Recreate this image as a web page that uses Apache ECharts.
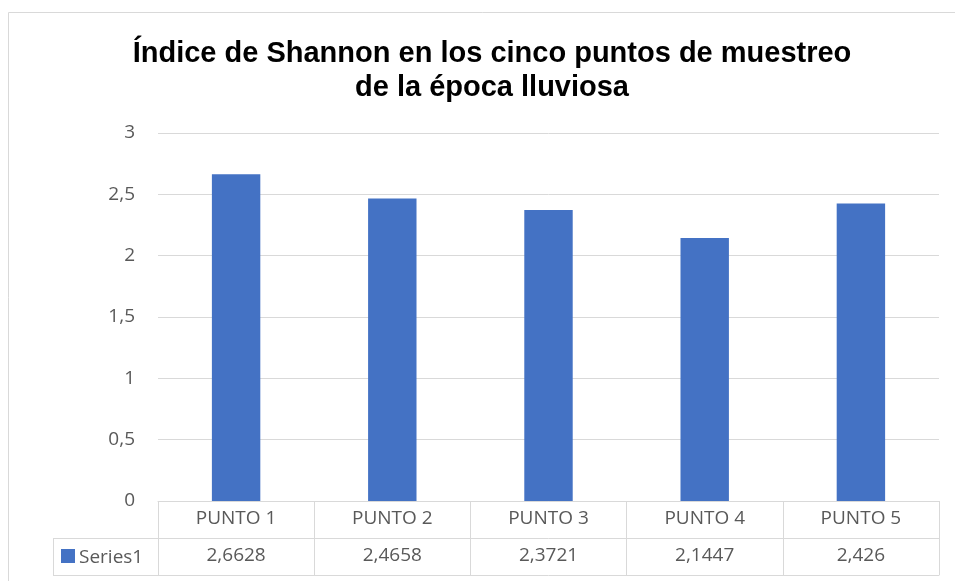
<!DOCTYPE html>
<html>
<head>
<meta charset="utf-8">
<script src="https://cdn.jsdelivr.net/npm/echarts@6/dist/echarts.min.js"></script>
<style>
  html, body { margin: 0; padding: 0; background: #fff; }
  #chart { width: 955px; height: 581px; }
</style>
</head>
<body>
<div id="chart"></div>
<script>
const TITLE = 'Índice de Shannon en los cinco puntos de muestreo\nde la época lluviosa';
const CATEGORIES = ['PUNTO 1', 'PUNTO 2', 'PUNTO 3', 'PUNTO 4', 'PUNTO 5'];
const SERIES_NAME = 'Series1';
const VALUES = [2.6628, 2.4658, 2.3721, 2.1447, 2.426];

const GRID = { left: 158, right: 16, top: 133, bottom: 80 };
const ROW_H = 37;
const LINE = '#d9d9d9';
const TEXT = '#595959';
const FONT = 'Open Sans';
const FSIZE = 19;

const fmt = v => String(v).replace('.', ',');

const chart = echarts.init(document.getElementById('chart'));

const gridBottomY = 581 - GRID.bottom;
const tableLeft = 53;

chart.setOption({
    animation: false,
    title: {
        text: TITLE,
        left: 487,
        top: 32,
        textAlign: 'center',
        textStyle: { fontFamily: 'Liberation Sans', fontSize: 29, fontWeight: 'bold', color: '#000', lineHeight: 34 }
    },
    grid: GRID,
    xAxis: [
        {
            type: 'category',
            data: CATEGORIES,
            position: 'bottom',
            axisLine: { lineStyle: { color: LINE, width: 1 } },
            axisTick: { show: true, length: ROW_H * 2, lineStyle: { color: LINE } },
            axisLabel: { color: TEXT, fontFamily: FONT, fontSize: FSIZE, margin: 8 }
        },
        {
            type: 'category',
            data: VALUES.map(fmt),
            position: 'bottom',
            offset: ROW_H,
            axisLine: { show: true, lineStyle: { color: LINE } },
            axisTick: { show: false },
            axisLabel: { color: TEXT, fontFamily: FONT, fontSize: FSIZE, margin: 8 }
        },
        {
            type: 'category',
            data: CATEGORIES,
            position: 'bottom',
            offset: ROW_H * 2,
            axisLine: { show: true, lineStyle: { color: LINE } },
            axisTick: { show: false },
            axisLabel: { show: false }
        }
    ],
    yAxis: {
        type: 'value',
        min: 0,
        max: 3,
        interval: 0.5,
        axisLine: { show: false },
        axisTick: { show: false },
        splitLine: { lineStyle: { color: LINE } },
        axisLabel: { color: TEXT, fontFamily: FONT, fontSize: FSIZE, margin: 23, formatter: v => fmt(v) }
    },
    series: [{
        name: SERIES_NAME,
        type: 'bar',
        xAxisIndex: 0,
        data: VALUES,
        barWidth: '31%',
        itemStyle: { color: '#4472c4' }
    }],
    graphic: [
        // outer chart frame
        { type: 'rect', shape: { x: 8.5, y: 12.5, width: 960, height: 580 }, style: { fill: 'none', stroke: '#d9d9d9', lineWidth: 1 }, silent: true },
        // left cell of the data table
        { type: 'line', shape: { x1: tableLeft, y1: gridBottomY + ROW_H + 0.5, x2: GRID.left, y2: gridBottomY + ROW_H + 0.5 }, style: { stroke: LINE } },
        { type: 'line', shape: { x1: tableLeft, y1: gridBottomY + ROW_H * 2 + 0.5, x2: GRID.left, y2: gridBottomY + ROW_H * 2 + 0.5 }, style: { stroke: LINE } },
        { type: 'line', shape: { x1: tableLeft + 0.5, y1: gridBottomY + ROW_H, x2: tableLeft + 0.5, y2: gridBottomY + ROW_H * 2 }, style: { stroke: LINE } },
        { type: 'rect', shape: { x: 61, y: gridBottomY + ROW_H + 11, width: 14, height: 14 }, style: { fill: '#4472c4' } },
        { type: 'text', x: 79, y: gridBottomY + ROW_H + ROW_H / 2 + 1, style: { text: SERIES_NAME, fill: TEXT, font: FSIZE + 'px "Open Sans"', verticalAlign: 'middle' } }
    ]
});
</script>
</body>
</html>
